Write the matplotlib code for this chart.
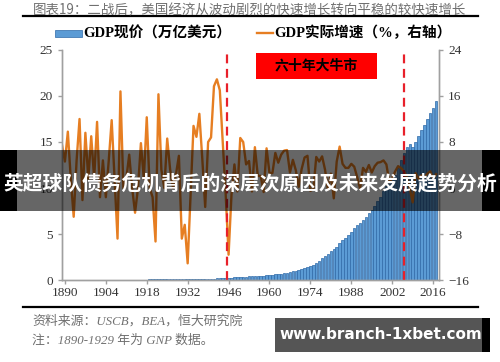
import matplotlib.pyplot as plt
import numpy as np
from matplotlib.patches import Rectangle
from matplotlib.lines import Line2D

plt.rcParams['font.family'] = ['Liberation Serif', 'Noto Sans CJK SC', 'DejaVu Sans']

# nominal GDP, trillion USD (GNP before 1929)
gdp_years = list(range(1919, 2018))
gdp = [0.079, 0.089, 0.074, 0.074, 0.085, 0.086, 0.091, 0.097, 0.096, 0.097,
       0.105, 0.092, 0.077, 0.060, 0.057, 0.067, 0.074, 0.085, 0.093, 0.087,
       0.093, 0.103, 0.129, 0.166, 0.203, 0.224, 0.228, 0.228, 0.250, 0.275,
       0.273, 0.300, 0.347, 0.367, 0.389, 0.391, 0.426, 0.449, 0.474, 0.481,
       0.522, 0.542, 0.562, 0.604, 0.638, 0.685, 0.742, 0.813, 0.860, 0.941,
       1.018, 1.073, 1.165, 1.279, 1.425, 1.545, 1.685, 1.873, 2.082, 2.352,
       2.627, 2.857, 3.207, 3.344, 3.634, 4.038, 4.339, 4.580, 4.855, 5.236,
       5.642, 5.963, 6.158, 6.520, 6.859, 7.287, 7.640, 8.073, 8.578, 9.063,
       9.631, 10.251, 10.582, 10.929, 11.457, 12.217, 13.039, 13.816, 14.474, 14.770,
       14.478, 15.049, 15.600, 16.254, 16.843, 17.551, 18.206, 18.695, 19.480]

# real growth, %
growth_years = list(range(1889, 2018))
growth = [7.5, 4.6, 9.8, 1.6, -5.0, 4.8, 12.0, -2.1, 9.6, 1.6,
          9.0, 1.6, 11.5, -1.6, 4.8, -1.6, 4.8, 11.8, 1.6, -8.8,
          16.8, 0.0, 1.6, 5.8, 0.0, -4.3, 0.0, 7.8, 1.6, 12.3,
          0.0, -1.6, -9.3, 16.3, 3.2, 0.0, 8.6, 3.2, 0.0, 2.4,
          5.6, -8.8, -6.4, -13.1, -1.2, 10.8, 8.9, 12.9, 5.1, -3.3,
          8.0, 8.8, 17.7, 18.9, 17.0, 8.0, -1.0, -11.6, -1.1, 4.1,
          -0.6, 8.7, 8.0, 4.1, 4.7, -0.6, 7.1, 2.1, 2.1, -0.7,
          6.9, 2.6, 2.6, 6.1, 4.4, 5.8, 6.5, 6.6, 2.7, 4.9,
          3.1, 0.2, 3.3, 5.3, 5.6, -0.5, -0.2, 5.4, 4.6, 5.5,
          3.2, -0.3, 2.5, -1.8, 4.6, 7.2, 4.2, 3.5, 3.5, 4.2,
          3.7, 1.9, -0.1, 3.5, 2.8, 4.0, 2.7, 3.8, 4.4, 4.5,
          4.8, 4.1, 1.0, 1.7, 2.9, 3.8, 3.5, 2.9, 1.9, -0.1,
          -2.5, 2.6, 1.6, 2.2, 1.8, 2.5, 2.9, 1.6, 2.4]

bull_start, bull_end = 1945.5, 2006
xticks = list(range(1890, 2017, 14))

fig = plt.figure(figsize=(5, 3.62), dpi=100)
ax = fig.add_axes([0.124, 0.2265, 0.754, 0.6354])
ax2 = ax.twinx()

ax.bar(gdp_years, gdp, width=0.85, color='#5b9bd5', edgecolor='#2f6aa8', linewidth=0.5)
ax2.plot(growth_years, growth, color='#e67e22', lw=1.7, solid_joinstyle='round')
for x in (bull_start, bull_end):
    ax2.axvline(x, ymin=0, ymax=0.99, color='#e8202a', lw=1.6, ls=(0, (4, 2.5)))

ax.set_xlim(1889, 2018)
ax.set_ylim(0, 25)
ax2.set_ylim(-16, 24)
ax.set_yticks([0, 5, 10, 15, 20, 25])
ax2.set_yticks([-16, -8, 0, 8, 16, 24])
ax.set_xticks(xticks)

for a in (ax, ax2):
    a.spines['top'].set_visible(False)
    for s in ('left', 'right', 'bottom'):
        a.spines[s].set_color('#a0a0a0')
        a.spines[s].set_linewidth(1.0)
    a.tick_params(colors='#a0a0a0', labelcolor='#333333', labelsize=9.5, length=3, width=1)
ax.tick_params(axis='x', pad=2)

# legend drawn by hand
fig.add_artist(Rectangle((0.110, 0.897), 0.054, 0.020, transform=fig.transFigure,
                         fc='#5b9bd5', ec='#2f6aa8', lw=0.5))
fig.text(0.166, 0.908, 'GDP现价（万亿美元）', ha='left', va='center',
         fontsize=10.5, fontweight='bold')
fig.add_artist(Line2D([0.514, 0.546], [0.908, 0.908], color='#e67e22', lw=1.7))
fig.text(0.548, 0.908, 'GDP实际增速（%，右轴）', ha='left', va='center',
         fontsize=10.5, fontweight='bold')

# red box label
fig.add_artist(Rectangle((0.512, 0.782), 0.242, 0.072, transform=fig.transFigure,
                         fc='#ff0000', ec='none'))
fig.text(0.633, 0.818, '六十年大牛市', ha='center', va='center',
         fontsize=10, fontweight='bold', color='black')

# title and rules
fig.text(0.5, 0.972, '图表19：二战后，美国经济从波动剧烈的快速增长转向平稳的较快速增长',
         ha='center', va='center', fontsize=9.7, color='#707070',
         family=['Noto Sans CJK SC', 'DejaVu Sans'])
fig.add_artist(Line2D([0.046, 0.956], [0.956, 0.956], color='black', lw=1.6))
fig.add_artist(Line2D([0.046, 0.956], [0.152, 0.152], color='black', lw=1.6))
fig.text(0.064, 0.113, '资料来源：USCB，BEA，恒大研究院', ha='left', va='center',
         fontsize=9.3, color='#707070', style='italic')
fig.text(0.064, 0.058, '注：1890-1929 年为 GNP 数据。', ha='left', va='center',
         fontsize=9.3, color='#707070', style='italic')

# overlay banner
fig.add_artist(Rectangle((0.034, 0.417), 0.93, 0.1685, transform=fig.transFigure,
                         fc='black', alpha=0.6, ec='none', zorder=10))
fig.add_artist(Rectangle((0, 0.417), 0.034, 0.1685, transform=fig.transFigure,
                         fc='black', ec='none', zorder=10))
fig.add_artist(Rectangle((0.964, 0.417), 0.036, 0.1685, transform=fig.transFigure,
                         fc='black', ec='none', zorder=10))
fig.text(0.5, 0.494, '英超球队债务危机背后的深层次原因及未来发展趋势分析', ha='center', va='center',
         fontsize=14.2, color='white', fontweight='bold', zorder=11,
         family=['Noto Sans CJK SC', 'DejaVu Sans'])

# bottom watermark box
fig.add_artist(Rectangle((0.55, 0.028), 0.414, 0.094, transform=fig.transFigure,
                         fc='#555555', ec='none', zorder=10))
fig.add_artist(Rectangle((0.964, 0.028), 0.016, 0.094, transform=fig.transFigure,
                         fc='black', ec='none', zorder=10))
fig.text(0.762, 0.075, 'www.branch-1xbet.com', ha='center', va='center',
         fontsize=11, color='white', fontweight='bold', zorder=11, family='DejaVu Sans')

fig.savefig('out.png', dpi=100)
